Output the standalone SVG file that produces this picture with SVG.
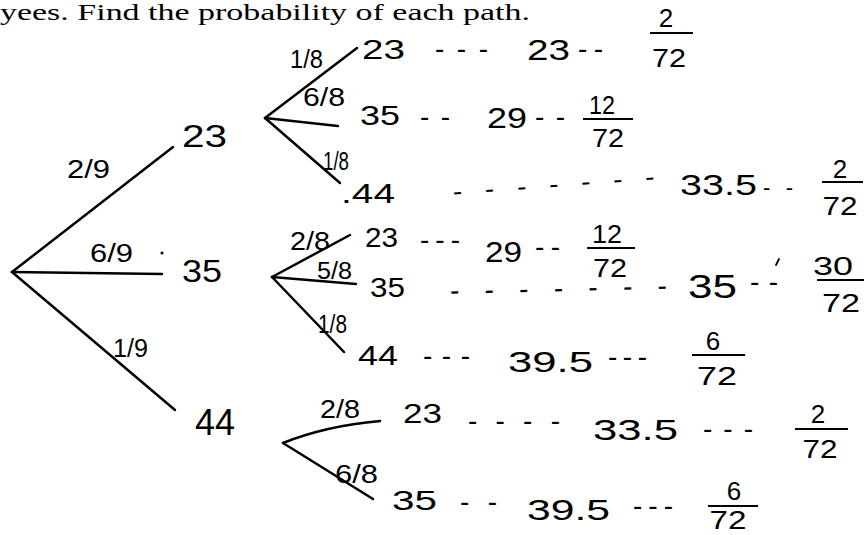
<svg xmlns="http://www.w3.org/2000/svg" width="864" height="535" viewBox="0 0 864 535">
<style>
.t{font-family:"Liberation Sans",Arial,sans-serif;fill:#000}
.title{font-family:"Liberation Serif","Times New Roman",serif;font-size:23px;fill:#000}
.l1{font-size:32px}
.l2{font-size:28px}
.el{font-size:26px}
.es{font-size:23px}
.m{font-size:30px}
.d{font-size:28px}
.fr{font-size:26px;text-anchor:middle}
.ln{stroke:#000;stroke-width:2.5;fill:none;stroke-linecap:round}
.bar{stroke:#000;stroke-width:2;fill:none}
.mk{stroke:#000;stroke-width:1.8;fill:none;stroke-linecap:round}
</style>
<rect width="864" height="535" fill="#fff"/>
<text class="title" x="0" y="20" textLength="530" lengthAdjust="spacingAndGlyphs">yees. Find the probability of each path.</text>

<g id="connectors">
  <path class="ln" d="M12,272 L173,147"/>
  <path class="ln" d="M12,272 L162,274"/>
  <path class="ln" d="M12,272 L175,410"/>
  <path class="ln" d="M265,118 L357,48"/>
  <path class="ln" d="M265,118 L338,126"/>
  <path class="ln" d="M265,118 L340,183"/>
  <path class="ln" d="M272,277 L350,235"/>
  <path class="ln" d="M272,277 L356,284"/>
  <path class="ln" d="M272,277 L344,352"/>
  <path class="ln" d="M283,443 Q325,426 380,421"/>
  <path class="ln" d="M283,443 L373,499"/>
  <circle cx="162" cy="253" r="1.5" fill="#000"/>
</g>

<g id="edge-labels" class="t">
  <text class="el" x="67" y="178" textLength="43" lengthAdjust="spacingAndGlyphs">2/9</text>
  <text class="el" x="90" y="262" textLength="43" lengthAdjust="spacingAndGlyphs">6/9</text>
  <text class="el" x="113" y="357" textLength="35" lengthAdjust="spacingAndGlyphs">1/9</text>
  <text class="el" x="290" y="68" textLength="33" lengthAdjust="spacingAndGlyphs">1/8</text>
  <text class="el" x="303" y="106" textLength="42" lengthAdjust="spacingAndGlyphs">6/8</text>
  <text class="el" x="323" y="170" textLength="26" lengthAdjust="spacingAndGlyphs">1/8</text>
  <text class="el" x="290" y="250" textLength="40" lengthAdjust="spacingAndGlyphs">2/8</text>
  <text class="es" x="317" y="279" textLength="35" lengthAdjust="spacingAndGlyphs">5/8</text>
  <text class="el" x="318" y="333" textLength="29" lengthAdjust="spacingAndGlyphs">1/8</text>
  <text class="el" x="320" y="418" textLength="40" lengthAdjust="spacingAndGlyphs">2/8</text>
  <text class="el" x="335" y="483" textLength="43" lengthAdjust="spacingAndGlyphs">6/8</text>
</g>

<g id="n1-23" class="t"><text class="l1" x="182" y="147" textLength="45" lengthAdjust="spacingAndGlyphs">23</text></g>
<g id="n1-35" class="t"><text class="l1" x="182" y="282" textLength="40" lengthAdjust="spacingAndGlyphs">35</text></g>
<g id="n1-44" class="t"><text class="l1" x="195" y="435" textLength="40" lengthAdjust="spacingAndGlyphs" style="font-size:36px">44</text></g>

<g id="p-23-23" class="t">
  <text class="l2" x="362" y="59" textLength="43" lengthAdjust="spacingAndGlyphs">23</text>
  <text class="d" x="435" y="58" textLength="53" lengthAdjust="spacing">- - -</text>
  <text class="m" x="527" y="60" textLength="43" lengthAdjust="spacingAndGlyphs">23</text>
  <text class="d" x="578" y="58" textLength="25" lengthAdjust="spacing">- -</text>
  <text class="fr" x="666" y="27">2</text>
  <line class="bar" x1="650" y1="33" x2="693" y2="33"/>
  <text class="fr" x="669" y="67" textLength="34" lengthAdjust="spacingAndGlyphs">72</text>
</g>

<g id="p-23-35" class="t">
  <text class="l2" x="360" y="125" textLength="40" lengthAdjust="spacingAndGlyphs">35</text>
  <text class="d" x="420" y="126" textLength="30" lengthAdjust="spacing">- -</text>
  <text class="m" x="487" y="128" textLength="40" lengthAdjust="spacingAndGlyphs">29</text>
  <text class="d" x="535" y="126" textLength="30" lengthAdjust="spacing">- -</text>
  <text class="fr" x="602" y="114" textLength="26" lengthAdjust="spacingAndGlyphs">12</text>
  <line class="bar" x1="583" y1="119" x2="633" y2="119"/>
  <text class="fr" x="608" y="147" textLength="32" lengthAdjust="spacingAndGlyphs">72</text>
</g>

<g id="p-23-44" class="t">
  <text class="l2" x="341" y="203" textLength="54" lengthAdjust="spacingAndGlyphs">.44</text>
  <text class="d" x="453" y="201" textLength="202" lengthAdjust="spacing" transform="rotate(-4.3 453 193)">-  -  -  -  -  -  -</text>
  <text class="m" x="680" y="195" textLength="77" lengthAdjust="spacingAndGlyphs">33.5</text>
  <text class="d" x="763" y="195" textLength="30" lengthAdjust="spacing" style="font-size:22px">- -</text>
  <text class="fr" x="840" y="178">2</text>
  <line class="bar" x1="822" y1="182" x2="863" y2="182"/>
  <text class="fr" x="840" y="215" textLength="35" lengthAdjust="spacingAndGlyphs">72</text>
</g>

<g id="p-35-23" class="t">
  <text class="l2" x="365" y="247" textLength="33" lengthAdjust="spacingAndGlyphs">23</text>
  <text class="d" x="420" y="249" textLength="40" lengthAdjust="spacing">- - -</text>
  <text class="m" x="485" y="262" textLength="37" lengthAdjust="spacingAndGlyphs">29</text>
  <text class="d" x="535" y="256" textLength="25" lengthAdjust="spacing">- -</text>
  <text class="fr" x="607" y="243" textLength="30" lengthAdjust="spacingAndGlyphs">12</text>
  <line class="bar" x1="587" y1="248" x2="635" y2="248"/>
  <text class="fr" x="610" y="277" textLength="34" lengthAdjust="spacingAndGlyphs">72</text>
</g>

<g id="p-35-35" class="t">
  <text class="l2" x="370" y="297" textLength="35" lengthAdjust="spacingAndGlyphs">35</text>
  <text class="d" x="450" y="300" textLength="217" lengthAdjust="spacing" transform="rotate(-1.3 450 293)">-  -  -  -  -  -  -</text>
  <text class="m" x="688" y="298" textLength="49" lengthAdjust="spacingAndGlyphs" style="font-size:33px">35</text>
  <text class="d" x="750" y="291" textLength="28" lengthAdjust="spacing">- -</text>
  <path class="mk" d="M779,259 L776,265"/>
  <text class="fr" x="833" y="275" textLength="40" lengthAdjust="spacingAndGlyphs">30</text>
  <line class="bar" x1="817" y1="280" x2="864" y2="280"/>
  <text class="fr" x="841" y="312" textLength="38" lengthAdjust="spacingAndGlyphs">72</text>
</g>

<g id="p-35-44" class="t">
  <text class="l2" x="358" y="365" textLength="40" lengthAdjust="spacingAndGlyphs">44</text>
  <text class="d" x="423" y="365" textLength="47" lengthAdjust="spacing">- - -</text>
  <text class="m" x="508" y="372" textLength="85" lengthAdjust="spacingAndGlyphs">39.5</text>
  <text class="d" x="608" y="366" textLength="39" lengthAdjust="spacing">- - -</text>
  <text class="fr" x="713" y="350">6</text>
  <line class="bar" x1="692" y1="355" x2="745" y2="355"/>
  <text class="fr" x="717" y="385" textLength="40" lengthAdjust="spacingAndGlyphs">72</text>
</g>

<g id="p-44-23" class="t">
  <text class="l2" x="403" y="423" textLength="39" lengthAdjust="spacingAndGlyphs">23</text>
  <text class="d" x="468" y="430" textLength="92" lengthAdjust="spacing">-  -  -  -</text>
  <text class="m" x="593" y="440" textLength="85" lengthAdjust="spacingAndGlyphs">33.5</text>
  <text class="d" x="703" y="438" textLength="50" lengthAdjust="spacing">- - -</text>
  <text class="fr" x="818" y="423">2</text>
  <line class="bar" x1="795" y1="429" x2="848" y2="429"/>
  <text class="fr" x="820" y="458" textLength="35" lengthAdjust="spacingAndGlyphs">72</text>
</g>

<g id="p-44-35" class="t">
  <text class="l2" x="392" y="510" textLength="45" lengthAdjust="spacingAndGlyphs">35</text>
  <text class="d" x="460" y="511" textLength="37" lengthAdjust="spacing">--</text>
  <text class="m" x="527" y="520" textLength="83" lengthAdjust="spacingAndGlyphs">39.5</text>
  <text class="d" x="633" y="515" textLength="40" lengthAdjust="spacing">- - -</text>
  <text class="fr" x="734" y="500">6</text>
  <line class="bar" x1="708" y1="506" x2="758" y2="506"/>
  <text class="fr" x="728" y="529" textLength="37" lengthAdjust="spacingAndGlyphs">72</text>
</g>
</svg>
